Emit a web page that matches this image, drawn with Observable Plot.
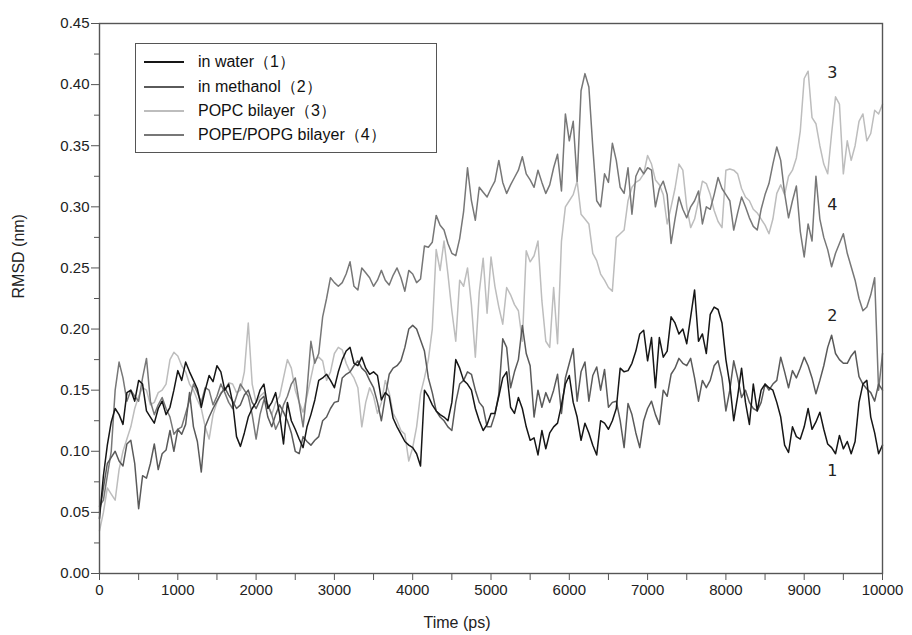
<!DOCTYPE html>
<html><head><meta charset="utf-8">
<script src="https://cdn.jsdelivr.net/npm/d3@7"></script>
<script src="https://cdn.jsdelivr.net/npm/@observablehq/plot@0.6"></script>
<style>
body{margin:0;background:#fff;font-family:"Liberation Sans",Arial,sans-serif;}
#wrap{position:relative;width:912px;height:635px;}
#legend{position:absolute;left:135px;top:43px;width:302px;height:110px;border:1.5px solid #555;box-sizing:border-box;background:#fff;}
.row{position:absolute;left:0;height:20px;}
.sw{position:absolute;left:8px;width:40px;height:2px;top:9px;}
.lab{position:absolute;left:62px;top:0;line-height:20px;font-size:16px;color:#111;white-space:nowrap;}
</style></head><body>
<div id="wrap"><div id="legend"></div></div>
<script>
// sampling interval of the values below (ps)
const step = 50;
const water = [
0.045,0.08,0.105,0.124,0.135,0.13,0.122,0.148,0.15,0.141,0.158,0.155,0.133,0.128,0.123,0.135,0.141,0.13,0.136,0.15,
0.166,0.158,0.173,0.165,0.158,0.151,0.136,0.15,0.162,0.157,0.17,0.165,0.15,0.155,0.14,0.112,0.104,0.115,0.128,0.135,
0.14,0.15,0.155,0.135,0.14,0.148,0.13,0.106,0.14,0.125,0.118,0.11,0.103,0.12,0.13,0.142,0.158,0.16,0.163,0.158,
0.152,0.165,0.175,0.182,0.185,0.172,0.17,0.177,0.168,0.163,0.165,0.162,0.142,0.148,0.145,0.127,0.12,0.114,0.108,0.105,
0.103,0.098,0.088,0.15,0.145,0.138,0.133,0.13,0.128,0.125,0.14,0.175,0.168,0.158,0.155,0.15,0.135,0.125,0.117,0.122,
0.131,0.131,0.145,0.16,0.165,0.136,0.131,0.144,0.135,0.12,0.109,0.111,0.097,0.117,0.102,0.115,0.12,0.123,0.138,0.155,
0.162,0.14,0.128,0.109,0.123,0.115,0.105,0.097,0.125,0.123,0.118,0.125,0.135,0.168,0.165,0.166,0.172,0.182,0.196,0.199,
0.174,0.193,0.152,0.193,0.177,0.182,0.21,0.205,0.196,0.2,0.188,0.21,0.232,0.19,0.196,0.18,0.212,0.218,0.216,0.205,
0.175,0.155,0.125,0.145,0.168,0.14,0.122,0.155,0.133,0.15,0.155,0.152,0.15,0.14,0.128,0.105,0.099,0.12,0.112,0.11,
0.12,0.135,0.118,0.124,0.132,0.118,0.106,0.103,0.098,0.113,0.102,0.108,0.098,0.108,0.14,0.155,0.158,0.128,0.115,0.098,
0.105];
const methanol = [
0.05,0.07,0.09,0.095,0.1,0.092,0.088,0.106,0.109,0.09,0.053,0.08,0.078,0.09,0.106,0.085,0.098,0.101,0.117,0.1,
0.118,0.114,0.122,0.148,0.12,0.108,0.083,0.12,0.128,0.135,0.141,0.147,0.152,0.146,0.141,0.135,0.138,0.146,0.15,0.14,
0.135,0.142,0.145,0.128,0.12,0.13,0.138,0.132,0.125,0.115,0.1,0.098,0.112,0.108,0.105,0.109,0.112,0.125,0.128,0.135,
0.14,0.141,0.16,0.163,0.165,0.17,0.174,0.168,0.165,0.158,0.152,0.14,0.125,0.145,0.163,0.168,0.17,0.174,0.185,0.2,
0.203,0.2,0.191,0.182,0.16,0.148,0.133,0.128,0.125,0.12,0.117,0.14,0.155,0.158,0.165,0.163,0.15,0.14,0.136,0.12,
0.12,0.13,0.147,0.192,0.185,0.152,0.165,0.175,0.203,0.18,0.17,0.128,0.15,0.136,0.148,0.14,0.15,0.163,0.131,0.16,
0.172,0.184,0.141,0.165,0.173,0.141,0.162,0.169,0.15,0.167,0.136,0.14,0.141,0.125,0.103,0.139,0.13,0.115,0.103,0.125,
0.135,0.141,0.13,0.122,0.15,0.145,0.163,0.168,0.176,0.172,0.17,0.176,0.16,0.141,0.158,0.152,0.158,0.17,0.174,0.16,
0.133,0.15,0.174,0.16,0.144,0.15,0.14,0.135,0.133,0.14,0.155,0.15,0.155,0.158,0.177,0.165,0.152,0.166,0.16,0.168,
0.177,0.17,0.16,0.147,0.158,0.17,0.185,0.195,0.18,0.175,0.172,0.172,0.178,0.182,0.161,0.155,0.151,0.148,0.141,0.155,
0.15];
const popc = [
0.035,0.05,0.07,0.065,0.06,0.085,0.1,0.11,0.12,0.135,0.145,0.152,0.15,0.138,0.14,0.148,0.15,0.155,0.175,0.181,
0.178,0.17,0.165,0.155,0.15,0.142,0.135,0.12,0.11,0.13,0.14,0.148,0.15,0.156,0.155,0.148,0.15,0.165,0.205,0.155,
0.14,0.145,0.148,0.138,0.13,0.14,0.145,0.16,0.175,0.168,0.15,0.14,0.132,0.145,0.16,0.175,0.177,0.174,0.158,0.165,
0.18,0.185,0.183,0.172,0.165,0.16,0.152,0.12,0.14,0.152,0.145,0.131,0.14,0.158,0.148,0.131,0.125,0.117,0.114,0.092,
0.103,0.12,0.147,0.16,0.175,0.2,0.265,0.248,0.272,0.245,0.215,0.19,0.24,0.235,0.25,0.22,0.177,0.23,0.258,0.213,
0.259,0.235,0.218,0.204,0.234,0.228,0.22,0.215,0.19,0.264,0.255,0.26,0.272,0.223,0.19,0.185,0.234,0.188,0.272,0.3,
0.305,0.31,0.321,0.294,0.29,0.286,0.262,0.256,0.245,0.24,0.234,0.231,0.275,0.278,0.281,0.305,0.316,0.32,0.322,0.327,
0.342,0.335,0.322,0.318,0.31,0.286,0.3,0.315,0.335,0.33,0.3,0.283,0.29,0.305,0.321,0.319,0.31,0.297,0.288,0.283,
0.33,0.331,0.33,0.327,0.315,0.308,0.305,0.298,0.295,0.29,0.285,0.278,0.29,0.311,0.318,0.31,0.325,0.33,0.34,0.362,
0.405,0.411,0.373,0.368,0.35,0.335,0.327,0.36,0.39,0.384,0.327,0.354,0.338,0.35,0.37,0.376,0.354,0.36,0.379,0.376,
0.384];
const popePopg = [
0.055,0.06,0.08,0.1,0.15,0.173,0.16,0.141,0.15,0.145,0.141,0.16,0.176,0.141,0.13,0.138,0.144,0.135,0.128,0.114,
0.118,0.12,0.131,0.142,0.155,0.148,0.14,0.152,0.15,0.138,0.145,0.155,0.148,0.14,0.135,0.145,0.155,0.15,0.145,0.13,
0.11,0.13,0.142,0.138,0.13,0.118,0.125,0.138,0.145,0.155,0.16,0.14,0.12,0.15,0.19,0.172,0.18,0.21,0.225,0.242,
0.238,0.235,0.238,0.245,0.255,0.235,0.232,0.25,0.246,0.242,0.235,0.24,0.248,0.24,0.236,0.244,0.25,0.242,0.231,0.248,
0.245,0.238,0.241,0.268,0.267,0.271,0.293,0.285,0.281,0.27,0.262,0.26,0.274,0.296,0.332,0.305,0.289,0.316,0.312,0.308,
0.315,0.321,0.338,0.32,0.311,0.318,0.324,0.33,0.341,0.327,0.322,0.316,0.33,0.32,0.311,0.318,0.332,0.343,0.313,0.376,
0.354,0.37,0.321,0.395,0.409,0.398,0.349,0.305,0.3,0.327,0.32,0.352,0.338,0.316,0.311,0.332,0.294,0.325,0.332,0.327,
0.332,0.33,0.3,0.315,0.321,0.31,0.27,0.29,0.308,0.298,0.291,0.3,0.305,0.313,0.286,0.3,0.298,0.31,0.324,0.315,
0.31,0.305,0.281,0.295,0.308,0.3,0.291,0.284,0.281,0.298,0.31,0.319,0.335,0.349,0.338,0.311,0.291,0.305,0.317,0.28,
0.259,0.286,0.272,0.325,0.29,0.275,0.265,0.251,0.262,0.27,0.278,0.262,0.251,0.24,0.225,0.215,0.218,0.228,0.242,0.15,
0.18];

const seriesNames = ["in water（1）","in methanol（2）","POPC bilayer（3）","POPE/POPG bilayer（4）"];
const seriesColors = ["#161616","#5a5a5a","#bdbdbd","#777777"];
const seriesValues = [water, methanol, popc, popePopg];
const drawOrder = [2,3,1,0];

const endLabels = ["3","4","2","1"];
const endLabelT = [9360,9360,9360,9360];
const endLabelV = [0.41,0.302,0.211,0.084];

const yMajor = [0,0.05,0.1,0.15,0.2,0.25,0.3,0.35,0.4,0.45];
const yMinor = [0.025,0.075,0.125,0.175,0.225,0.275,0.325,0.375,0.425];
const xMajor = [0,1000,2000,3000,4000,5000,6000,7000,8000,9000,10000];
const xMinor = [500,1500,2500,3500,4500,5500,6500,7500,8500,9500];

const rows = seriesValues.map((vals,k)=>vals.map((v,i)=>({t:i*step, v, k})));
const labels = endLabels.map((s,i)=>({s, t:endLabelT[i], v:endLabelV[i]}));

const chart = Plot.plot({
  width:912, height:635,
  marginLeft:99, marginRight:30, marginTop:23, marginBottom:62,
  x:{domain:[0,10000]},
  y:{domain:[0,0.45]},
  style:{fontFamily:"'Liberation Sans', Arial, sans-serif", fontSize:"15px", background:"#fff", color:"#222"},
  marks:[
    Plot.axisY(yMinor,{tickSize:5, tickFormat:()=>"", stroke:"#555", label:null}),
    Plot.axisY(yMajor,{tickSize:8, tickPadding:2, tickFormat:d3.format(".2f"), stroke:"#555", fill:"#222", label:null, fontSize:15}),
    Plot.axisX(xMinor,{tickSize:7, tickFormat:()=>"", stroke:"#555", label:null}),
    Plot.axisX(xMajor,{tickSize:7, tickPadding:4, tickFormat:d=>String(d), stroke:"#555", fill:"#222", label:null, fontSize:15}),
    ...drawOrder.map(k=>Plot.line(rows[k],{x:"t", y:"v", stroke:seriesColors[k], strokeWidth:1.5, strokeLinejoin:"round"})),
    Plot.frame({stroke:"#555", strokeWidth:1.4}),
    Plot.text(labels,{x:"t", y:"v", text:"s", fontSize:16, fill:"#222", fontFamily:"'DejaVu Sans', sans-serif"}),
    Plot.text(["Time (ps)"],{frameAnchor:"bottom", dx:-34, dy:49, lineAnchor:"middle", fontSize:16, fill:"#222"}),
    Plot.text(["RMSD (nm)"],{frameAnchor:"left", dx:-81, rotate:-90, lineAnchor:"middle", fontSize:16, fill:"#222"})
  ]
});
document.getElementById("wrap").insertBefore(chart, document.getElementById("legend"));

const legend = document.getElementById("legend");
const rowTops = [18,43,67,91];
seriesNames.forEach((name,k)=>{
  const r = document.createElement("div");
  r.className = "row";
  r.style.top = (rowTops[k]-10)+"px";
  r.innerHTML = `<div class="sw" style="background:${seriesColors[k]}"></div><div class="lab">${name}</div>`;
  legend.appendChild(r);
});
</script></body></html>
